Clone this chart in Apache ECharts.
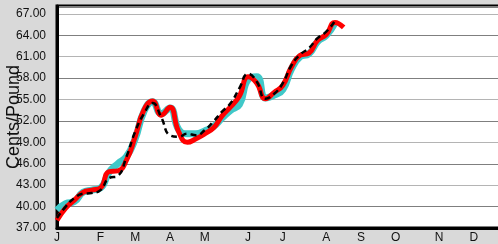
<!DOCTYPE html>
<html>
<head>
<meta charset="utf-8">
<script src="https://cdn.jsdelivr.net/npm/echarts@6/dist/echarts.min.js"></script>
<style>
  html, body { margin: 0; padding: 0; background: #d9d9d9; }
  #chart { width: 498px; height: 244px; }
</style>
</head>
<body>
<div id="chart"></div>
<script>
// weekly points, 52 weeks; month letter on the first week of each month
const monthStarts = { 0: 'J', 5: 'F', 9: 'M', 13: 'A', 17: 'M', 22: 'J', 26: 'J', 31: 'A', 35: 'S', 39: 'O', 44: 'N', 48: 'D' }
const weeks = Array.from({ length: 52 }, (_, i) => monthStarts[i] || '')

const cyanValues = [
  39.5, 40.4, 40.7, 42.0, 42.3, 42.6, 44.8, 46.0, 47.0, 49.5,
  53.3, 54.7, 53.0, 53.8, 50.8, 50.2, 50.2, 50.6, 51.2, 52.4,
  53.5, 54.3, 57.8, 58.2, 55.2, 55.6, 56.4, 59.3, 61.0, 61.4,
  63.1, 64.0, 65.7
]
const redValues = [
  38.1, 39.8, 40.9, 42.0, 42.3, 42.6, 44.9, 45.0, 46.5, 49.8,
  53.5, 54.8, 52.8, 53.9, 50.5, 49.0, 49.5, 50.2, 51.0, 52.7,
  54.0, 55.5, 58.2, 57.3, 55.1, 56.0, 57.0, 59.6, 61.2, 61.5,
  63.3, 64.1, 65.8, 65.1
]
const blackValues = [
  38.4, 40.0, 41.2, 41.8, 41.9, 42.3, 44.0, 44.3, 47.0, 50.5,
  53.0, 54.5, 52.5, 50.0, 49.8, 50.2, 50.0, 50.7, 51.9, 53.3,
  54.5, 56.6, 58.6, 57.5, 55.1, 55.8, 57.3, 59.8, 61.3, 62.2,
  63.6, 64.5, 66.0
]

const font = '"Liberation Sans", Arial, sans-serif'

const chart = echarts.init(document.getElementById('chart'))
chart.setOption({
  backgroundColor: '#d9d9d9',
  animation: false,
  grid: {
    left: 57, right: -2, top: 6, bottom: 16,
    containLabel: false, outerBoundsMode: 'none',
    show: true, backgroundColor: '#fff',
    borderColor: '#000', borderWidth: 3
  },
  xAxis: {
    type: 'category',
    data: weeks,
    boundaryGap: false,
    axisLine: { lineStyle: { color: '#000', width: 3 } },
    axisTick: { show: false },
    axisLabel: {
      interval: (i) => i in monthStarts,
      color: '#111', fontSize: 12, fontFamily: font, margin: 4
    },
    splitLine: { show: false }
  },
  yAxis: {
    type: 'value',
    min: 37, max: 68.1, interval: 3,
    name: 'Cents/Pound',
    nameLocation: 'middle',
    nameGap: 34,
    nameMoveOverlap: false,
    nameTextStyle: { fontSize: 18, color: '#111', fontFamily: font },
    axisLine: { show: true, lineStyle: { color: '#000', width: 3 } },
    axisTick: { show: false },
    axisLabel: {
      formatter: (v) => v.toFixed(2),
      showMaxLabel: false,
      color: '#111', fontSize: 12, fontFamily: font, margin: 11
    },
    splitLine: { lineStyle: { color: ['#b4b4b4', '#7f7f7f'], width: 1 } }
  },
  series: [
    {
      type: 'line', data: cyanValues, smooth: true, symbol: 'none',
      lineStyle: { color: '#40c8c8', width: 7 }
    },
    {
      type: 'line', data: redValues, smooth: true, symbol: 'none',
      lineStyle: { color: '#ff0000', width: 5 }
    },
    {
      type: 'line', data: blackValues, smooth: true, symbol: 'none',
      lineStyle: { color: '#000', width: 2.5, type: [6, 4] }
    }
  ]
})
</script>
</body>
</html>
